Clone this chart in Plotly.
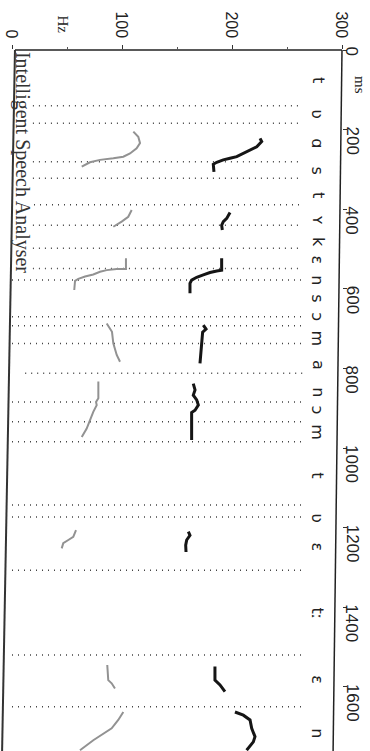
import plotly.graph_objects as go

# ---- data ----
hz_ticks = [0, 100, 200, 300]
ms_ticks = [0, 200, 400, 600, 800, 1000, 1200, 1400, 1600]

# segment boundaries (ms) and where each dotted line starts (Hz)
bound_ms = [140, 184, 281, 322, 389, 440, 498, 549, 578, 670, 693, 737,
            812, 884, 934, 984, 1143, 1173, 1307, 1520, 1650]
bound_from_hz = [19, 19, 19, 19, 20, 19, 19, 19, 0, 0, 0, 0,
                 12, 0, 0, 0, 0, 0, 0, 0, 0]
bound_to_hz = 264

phones = ['t', 'ʋ', 'ɑ', 's', 't', 'ʏ', 'k', 'ɛ', 'n', 's', 'ɔ', 'm',
          'a', 'n', 'ɔ', 'm', 't', 'ʋ', 'ɛ', 'tː', 'ɛ', 'n']
phone_ms = [75, 161, 234, 302, 364, 427, 482, 528, 578, 623, 671, 724,
            791, 859, 905, 960, 1068, 1176, 1249, 1415, 1583, 1716]

# pitch track, dark voice (Hz, ms) per voiced stretch
dark_hz = [
    [225.5, 227, 222.5, 216.4, 208.8, 204.3, 198.2, 192.1, 186.1, 183, 183.6],
    [198.2, 195.2, 192.1, 190.6, 191.2],
    [190.6, 190.6, 186.1, 180, 173.9, 167.9, 163.3, 161.8, 161.8],
    [173.9, 176.4, 173.3, 172.4, 170.9],
    [164.8, 166.4, 164.8, 167.9, 169.4, 166.4, 163.3, 163.3],
    [160.3, 161.8, 158.8, 157.9, 158.2],
    [184.5, 184.5, 189.1, 193.6],
    [202.7, 210.3, 216.4, 217.9, 220.9, 219.4, 213.3],
]
dark_ms = [
    [222, 230, 243, 251, 260, 268, 272, 276, 282, 287, 306],
    [408, 423, 431, 440, 452],
    [523, 553, 555, 559, 565, 571, 578, 586, 611],
    [691, 701, 709, 741, 787],
    [838, 854, 867, 879, 892, 905, 911, 980],
    [1210, 1219, 1231, 1244, 1261],
    [1549, 1583, 1595, 1612],
    [1663, 1671, 1683, 1704, 1725, 1738, 1759],
]
# pitch track, light voice
light_hz = [
    [110.3, 114.8, 116.4, 113.3, 107.3, 101.2, 92.1, 80, 70.9, 63.4],
    [108.8, 105.7, 99.7, 93.6, 92.1],
    [103.6, 103.6, 95.2, 86.1, 80, 73.9, 66.4, 60.3, 57.3, 56.6],
    [86.1, 90.9, 92.1, 95.2, 98.2],
    [78.5, 78.5, 76.4, 77, 73.9, 70.9, 67.9, 63.4],
    [58.2, 55.7, 51.2, 46.6, 45.2],
    [86.6, 87.5, 90.6, 93.6],
    [101.2, 96.6, 90.6, 83, 73.9, 61.8],
]
light_ms = [
    [205, 218, 234, 247, 260, 268, 272, 276, 282, 293],
    [402, 419, 431, 440, 444],
    [523, 550, 550, 553, 557, 564, 569, 575, 580, 603],
    [687, 708, 737, 766, 783],
    [833, 875, 884, 892, 909, 930, 951, 972],
    [1206, 1223, 1231, 1239, 1252],
    [1545, 1583, 1591, 1604],
    [1663, 1683, 1704, 1717, 1734, 1759],
]


def joined(parts):
    out = []
    for p in parts:
        out += list(p) + [None]
    return out


fig = go.Figure()

# dotted segment boundaries
bx, by = [], []
for m, f in zip(bound_ms, bound_from_hz):
    bx += [f, bound_to_hz, None]
    by += [m, m, None]
fig.add_trace(go.Scatter(x=bx, y=by, mode='lines', hoverinfo='skip',
                         line=dict(color='#444444', width=1.5, dash='1px,5px')))

fig.add_trace(go.Scatter(x=joined(light_hz), y=joined(light_ms), mode='lines',
                         line=dict(color='#929292', width=2), hoverinfo='skip'))
fig.add_trace(go.Scatter(x=joined(dark_hz), y=joined(dark_ms), mode='lines',
                         line=dict(color='#151515', width=3), hoverinfo='skip'))

PHONE_HZ = 278
for ph, m in zip(phones, phone_ms):
    fig.add_annotation(x=PHONE_HZ, y=m, xref='x', yref='y', text=ph,
                       showarrow=False, textangle=90, xanchor='center', yanchor='middle',
                       font=dict(family='DejaVu Sans', size=16, color='#222'))

# tick labels, rotated like the scanned page
for v in hz_ticks:
    fig.add_annotation(x=v, y=1.0143, xref='x', yref='paper', text=str(v),
                       showarrow=False, textangle=90, xanchor='center', yanchor='bottom',
                       font=dict(family='Liberation Sans', size=16, color='#222'))
for v in ms_ticks:
    fig.add_annotation(x=1.0303, y=v, xref='paper', yref='y', text=str(v),
                       showarrow=False, textangle=90, xanchor='center', yanchor='top',
                       yshift=5, font=dict(family='Liberation Sans', size=17, color='#222'))

fig.update_layout(
    width=370, height=751,
    margin=dict(l=12, r=28, t=50, b=0),
    paper_bgcolor='white', plot_bgcolor='white',
    showlegend=False,
    xaxis=dict(range=[0, 300], side='top', tickvals=hz_ticks, showticklabels=False,
               ticks='outside', ticklen=4, tickcolor='#333', automargin=False,
               showgrid=False, zeroline=False, showline=False,
               minor=dict(tickvals=[50, 150, 250], ticks='outside', ticklen=2, tickcolor='#555')),
    yaxis=dict(range=[1761, 0], side='right', tickvals=ms_ticks, showticklabels=False,
               ticks='outside', ticklen=4, tickcolor='#333', automargin=False,
               showgrid=False, zeroline=False, showline=False),
)

# frame (scan is slightly skewed)
fig.add_shape(type='line', xref='paper', yref='paper', x0=0.009, y0=1, x1=1, y1=1,
              line=dict(color='#222', width=1.5))
fig.add_shape(type='line', xref='paper', yref='paper', x0=0.009, y0=1, x1=-0.03, y1=0,
              line=dict(color='#333', width=2))
fig.add_shape(type='line', xref='paper', yref='paper', x0=1.0, y0=1, x1=0.973, y1=0,
              line=dict(color='#222', width=1.5))

# axis titles and caption
fig.add_annotation(x=46, y=1.0214, xref='x', yref='paper', text='Hz', showarrow=False,
                   textangle=90, xanchor='center', yanchor='bottom',
                   font=dict(family='Liberation Serif', size=15, color='#222'))
fig.add_annotation(x=1.0545, y=88, xref='paper', yref='y', text='ms', showarrow=False,
                   textangle=90, xanchor='center', yanchor='middle',
                   font=dict(family='Liberation Serif', size=15, color='#222'))
fig.add_annotation(x=0.03, y=0.839, xref='paper', yref='paper',
                   text='Intelligent Speech Analyser', showarrow=False, textangle=90,
                   xanchor='center', yanchor='middle',
                   font=dict(family='Liberation Serif', size=20, color='#333'))

fig.write_html('out.html', config={'displayModeBar': False},
               post_script="document.body.style.margin='0px';")
